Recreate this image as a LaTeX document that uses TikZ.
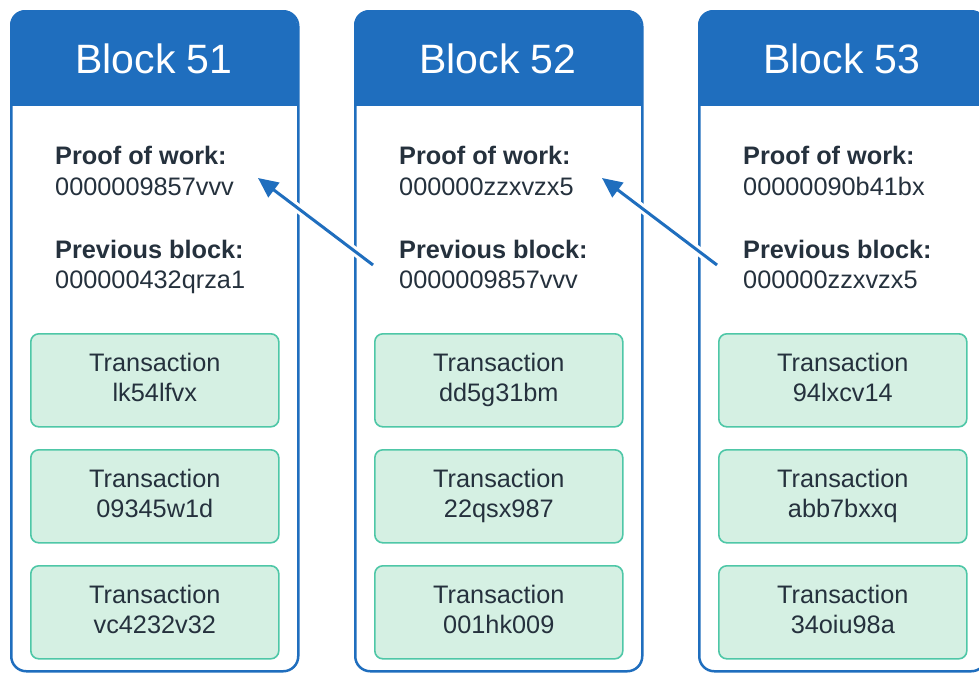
\documentclass[tikz,border=0pt]{standalone}
\usepackage{fontspec}
\setmainfont{Liberation Sans}
\usetikzlibrary{arrows.meta,calc}
\definecolor{hdrblue}{HTML}{1F6EBE}
\definecolor{txfill}{HTML}{D5F0E3}
\definecolor{txline}{HTML}{4EC7A7}
\definecolor{ink}{HTML}{25313D}
\newcommand\bodyfnt{\fontsize{25.3}{30}\selectfont}
\newcommand\titlefnt{\fontsize{41}{48}\selectfont}
\tikzset{
  blockbox/.style={draw=hdrblue, line width=2.5pt, fill=white, rounded corners=15pt,
    minimum width=287pt, minimum height=660pt, anchor=north west, inner sep=0pt},
  titletext/.style={text=white, font=\titlefnt, inner sep=0pt},
  lbltext/.style={text=ink, font=\bodyfnt\bfseries, anchor=base west, inner sep=0pt},
  valtext/.style={text=ink, font=\bodyfnt, anchor=base west, inner sep=0pt},
  txbox/.style={draw=txline, line width=1.6pt, fill=txfill, rounded corners=8pt,
    minimum width=248pt, minimum height=93pt, anchor=north west, inner sep=0pt,
    align=center, text=ink, font=\bodyfnt},
  halo/.style={white, line width=9pt, line cap=round},
  linkarrow/.style={hdrblue, line width=3pt, -{Triangle[length=20pt,width=18pt]}}
}
\begin{document}
\begin{tikzpicture}[x=1pt,y=-1pt]
\useasboundingbox (0,0) rectangle (979,672);
\fill[white] (0,0) rectangle (979,672);
\clip (0,0) rectangle (979,672);
\foreach \i/\L/\n/\pw/\pv/\ta/\tb/\tc in {
  1/10/51/0000009857vvv/000000432qrza1/lk54lfvx/09345w1d/vc4232v32,
  2/354/52/000000zzxvzx5/0000009857vvv/dd5g31bm/22qsx987/001hk009,
  3/698/53/00000090b41bx/000000zzxvzx5/94lxcv14/abb7bxxq/34oiu98a}{
  \node[blockbox] (blk\i) at (\L,10) {};
  \begin{scope}
    \clip[rounded corners=15pt] (\L,10) rectangle ({\L+287},670);
    \fill[hdrblue] (\L,10) rectangle ({\L+287},106);
  \end{scope}
  \node[titletext] (head\i) at ({\L+144},59) {Block \n};
  \node[lbltext] (pow\i) at ({\L+45},164) {Proof of work:};
  \node[valtext] (powv\i) at ({\L+45},195) {\pw};
  \node[lbltext] (prev\i) at ({\L+45},258) {Previous block:};
  \node[valtext] (prevv\i) at ({\L+45},288) {\pv};
  \node[txbox] (txa\i) at ({\L+20},333) {\strut Transaction\\\strut\ta};
  \node[txbox] (txb\i) at ({\L+20},449) {\strut Transaction\\\strut\tb};
  \node[txbox] (txc\i) at ({\L+20},565) {\strut Transaction\\\strut\tc};
}
\coordinate (tail2) at (373,265);
\coordinate (tip1) at (258,178);
\coordinate (tail3) at (717,265);
\coordinate (tip2) at (602,178);
\draw[halo, shorten >=18pt] (tail2) -- (tip1);
\draw[linkarrow] (tail2) -- (tip1);
\draw[halo, shorten >=18pt] (tail3) -- (tip2);
\draw[linkarrow] (tail3) -- (tip2);
\end{tikzpicture}
\end{document}
